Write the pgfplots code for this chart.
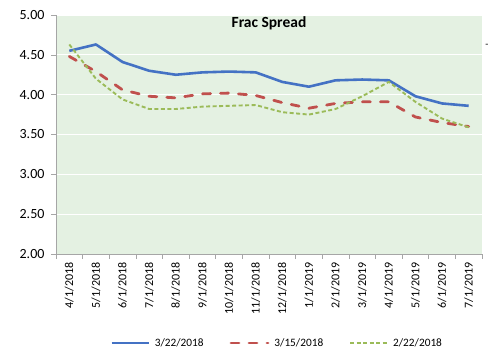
\documentclass[border=0pt]{standalone}
\usepackage{pgfplots}
\pgfplotsset{compat=1.18}
\usepackage{fontspec}
\setmainfont{Carlito}
\definecolor{bgc}{RGB}{228,241,226}
\definecolor{lblue}{RGB}{68,114,196}
\definecolor{lred}{RGB}{192,80,77}
\definecolor{lgreen}{RGB}{155,187,89}
\definecolor{axc}{RGB}{166,166,166}
\pgfplotstableread{
x a b c
0 4.55 4.48 4.63
1 4.63 4.29 4.20
2 4.41 4.06 3.94
3 4.30 3.98 3.82
4 4.25 3.96 3.82
5 4.28 4.01 3.85
6 4.29 4.02 3.86
7 4.28 3.99 3.87
8 4.16 3.90 3.78
9 4.10 3.83 3.75
10 4.18 3.89 3.82
11 4.19 3.91 3.98
12 4.18 3.91 4.16
13 3.98 3.72 3.91
14 3.89 3.65 3.70
15 3.86 3.60 3.59
}\data
\begin{document}
\begin{tikzpicture}
\useasboundingbox (-56pt,-100pt) rectangle (443pt,254pt);
\begin{axis}[
  scale only axis, width=426pt, height=239pt,
  at={(0,0)}, anchor=south west,
  xmin=-0.5, xmax=15.5, ymin=2, ymax=5,
  axis background/.style={fill=bgc},
  axis line style={axc, line width=0.8pt},
  axis x line*=bottom, axis y line*=left,
  xtick={-0.5,0.5,...,15.5},
  xticklabels={},
  extra x ticks={0,...,15},
  extra x tick labels={4/1/2018,5/1/2018,6/1/2018,7/1/2018,8/1/2018,9/1/2018,10/1/2018,11/1/2018,12/1/2018,1/1/2019,2/1/2019,3/1/2019,4/1/2019,5/1/2019,6/1/2019,7/1/2019},
  extra x tick style={major tick length=0pt, tick label style={rotate=90, anchor=east, font=\fontsize{12}{13}\selectfont, xshift=-5pt}},
  ytick={2,2.5,...,5},
  yticklabel style={/pgf/number format/fixed, /pgf/number format/fixed zerofill, /pgf/number format/precision=2, font=\fontsize{14}{15}\selectfont, xshift=-3pt},
  /pgf/number format/assume math mode=true,
  tick style={axc, line width=0.6pt},
  tick align=outside, major tick length=5pt,
  ymajorgrids, grid style={white, line width=1pt},
  xmajorgrids=false,
  title={\textbf{Frac Spread}}, title style={at={(0.5,0.983)}, anchor=north, font=\fontsize{15.5}{17}\selectfont},
  legend columns=3,
  legend style={at={(0.519,-0.372)}, anchor=center, draw=none, fill=none, font=\fontsize{11.3}{13}\selectfont, /tikz/every even column/.append style={column sep=24pt}, /tikz/every odd column/.append style={column sep=3pt}},
  legend image code/.code={\draw[#1] (0pt,0pt) -- (37pt,0pt);},
  clip=false,
]
\addplot[lblue, line width=2.6pt, line join=round] table[x=x,y=a]{\data};
\addlegendentry{3/22/2018}
\addplot[lred, line width=2.8pt, line cap=round, dash pattern=on 8pt off 10pt] table[x=x,y=b]{\data};
\addlegendentry{3/15/2018}
\addplot[lgreen, line width=1.9pt, dash pattern=on 4pt off 2.5pt] table[x=x,y=c]{\data};
\addlegendentry{2/22/2018}
\end{axis}
\node[font=\fontsize{10}{11}\selectfont] at (431pt,208pt) {-};
\end{tikzpicture}
\end{document}
